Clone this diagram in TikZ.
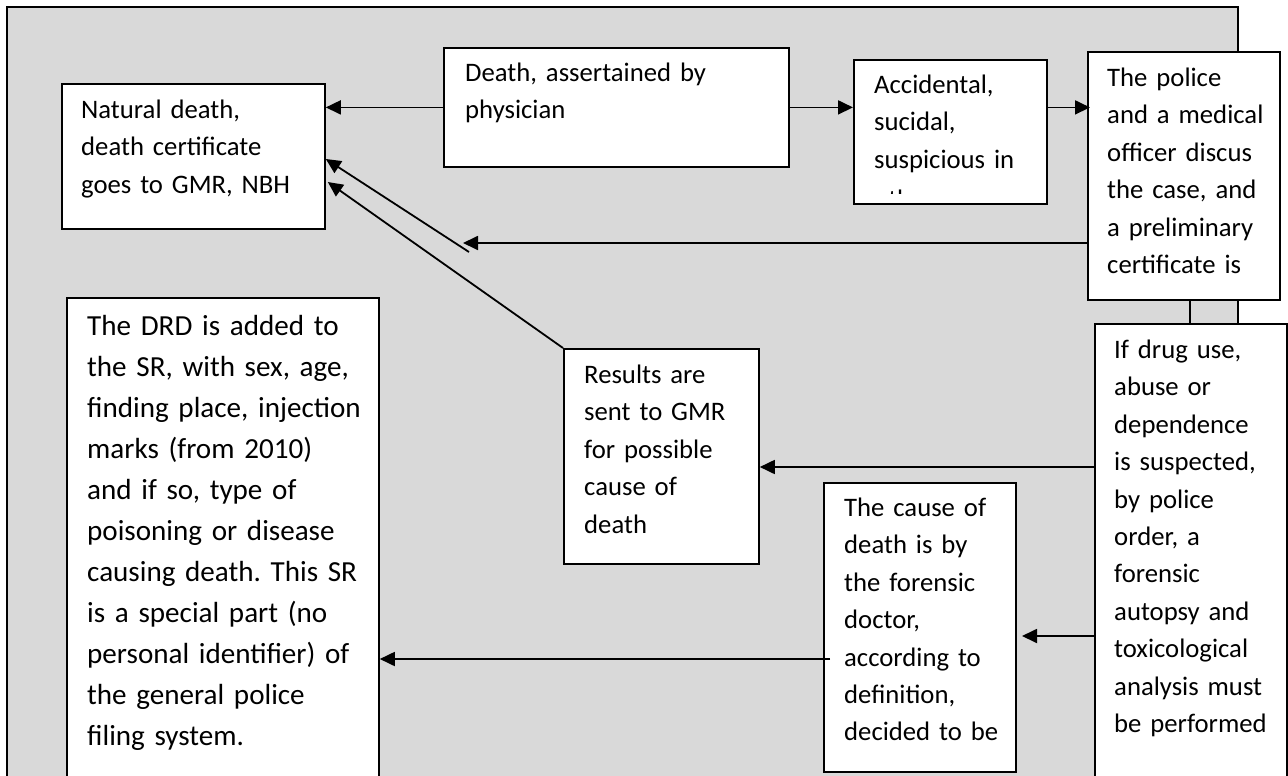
\documentclass[tikz,border=0pt]{standalone}
\usepackage{fontspec}
\setmainfont{Carlito}
\usetikzlibrary{arrows.meta,calc}
\definecolor{panel}{HTML}{D9D9D9}
\frenchspacing

\begin{document}
\begin{tikzpicture}[x=1pt,y=-1pt,
  frame/.style={draw=black,line width=2pt,fill=panel},
  card/.style={draw=black,line width=1.8pt,fill=white,inner sep=0pt,anchor=north west},
  body/.style={anchor=base west,inner sep=0pt,align=left,text width=#1,
    font=\fontsize{26.7}{37.4}\selectfont},
  bodylarge/.style={anchor=base west,inner sep=0pt,align=left,text width=#1,
    font=\fontsize{29.1}{41}\selectfont},
  link/.style={line width=1.8pt,-{Triangle[length=15pt,width=14pt]}},
  plain/.style={line width=1.8pt}]

\useasboundingbox (0,0) rectangle (1288,776);
\clip (0,0) rectangle (1288,776);
\fill[white] (0,0) rectangle (1288,776);

% grey panel behind the flow chart
\path[frame] (7,7) rectangle (1238,800);

% boxes
\node[card,minimum width=263pt,minimum height=145pt] (nat) at (61,83) {};
\node[card,minimum width=345pt,minimum height=119pt] (death) at (443,47) {};
\node[card,minimum width=193pt,minimum height=144pt] (acc) at (853,59) {};
\node[card,minimum width=192pt,minimum height=248pt] (pol) at (1087,51) {};
\node[card,minimum width=192pt,minimum height=480pt] (drug) at (1094,323) {};
\node[card,minimum width=195pt,minimum height=215pt] (res) at (563,348) {};
\node[card,minimum width=192pt,minimum height=289pt] (cause) at (823,482) {};
\node[card,minimum width=312pt,minimum height=500pt] (drd) at (66,297) {};

% box texts
\node[body=238pt] (natT) at (81,118.5) {Natural death,\\death certificate\\goes to GMR, NBH};
\node[body=318pt] (deathT) at (465,81.5) {Death, assertained by\\physician};
\node[body=168pt] (accT) at (874,93.5) {Accidental,\\sucidal,\\suspicious in};
% the fourth line is cut off by the box, only its ascenders peek out
\begin{scope}
  \clip (853,59) rectangle (1046,193);
  \node[body=168pt] (accX) at (874,208.5) {other};
\end{scope}
\node[body=168pt] (polT) at (1107,86.5) {The police\\and a medical\\officer discus\\the case, and\\a preliminary\\certificate is};
\node[body=168pt] (drugT) at (1114,358.5) {If drug use,\\abuse or\\dependence\\is suspected,\\by police\\order, a\\forensic\\autopsy and\\toxicological\\analysis must\\be performed};
\node[body=170pt] (resT) at (584,383.5) {Results are\\sent to GMR\\for possible\\cause of\\death};
\node[body=167pt] (causeT) at (844,516.5) {The cause of\\death is by\\the forensic\\doctor,\\according to\\definition,\\decided to be};
\node[bodylarge=287pt] (drdT) at (87,335.5) {The DRD is added to\\the SR, with sex, age,\\finding place, injection\\marks (from 2010)\\and if so, type of\\poisoning or disease\\causing death. This SR\\is a special part (no\\personal identifier) of\\the general police\\filing system.};

% connectors
\draw[link] (death.west) -- (nat.east |- death.west);
\draw[link] (death.east) -- (acc.west |- death.east);
\draw[link] (acc.east |- death.east) -- ([xshift=3pt]pol.west |- death.east);

\coordinate (tipA) at (463,243);
\draw[link] (pol.west |- tipA) -- (tipA);
\coordinate (tailA) at (469,252);
\draw[link] (tailA) -- ($(nat.north east)+(0,76)$);
\draw[link] (res.north west) -- ($(nat.north east)+(2,99)$);

\coordinate (lvlR) at (0,467);
\draw[link] (drug.west |- lvlR) -- (res.east |- lvlR);
\coordinate (tipC) at (1022,636);
\draw[link] (drug.west |- tipC) -- (tipC);
\coordinate (lvlD) at (830,659);
\draw[link] (lvlD) -- (drd.east |- lvlD);

\coordinate (stem) at (1190,0);
\draw[plain] (pol.south -| stem) -- (drug.north -| stem);
\end{tikzpicture}
\end{document}
